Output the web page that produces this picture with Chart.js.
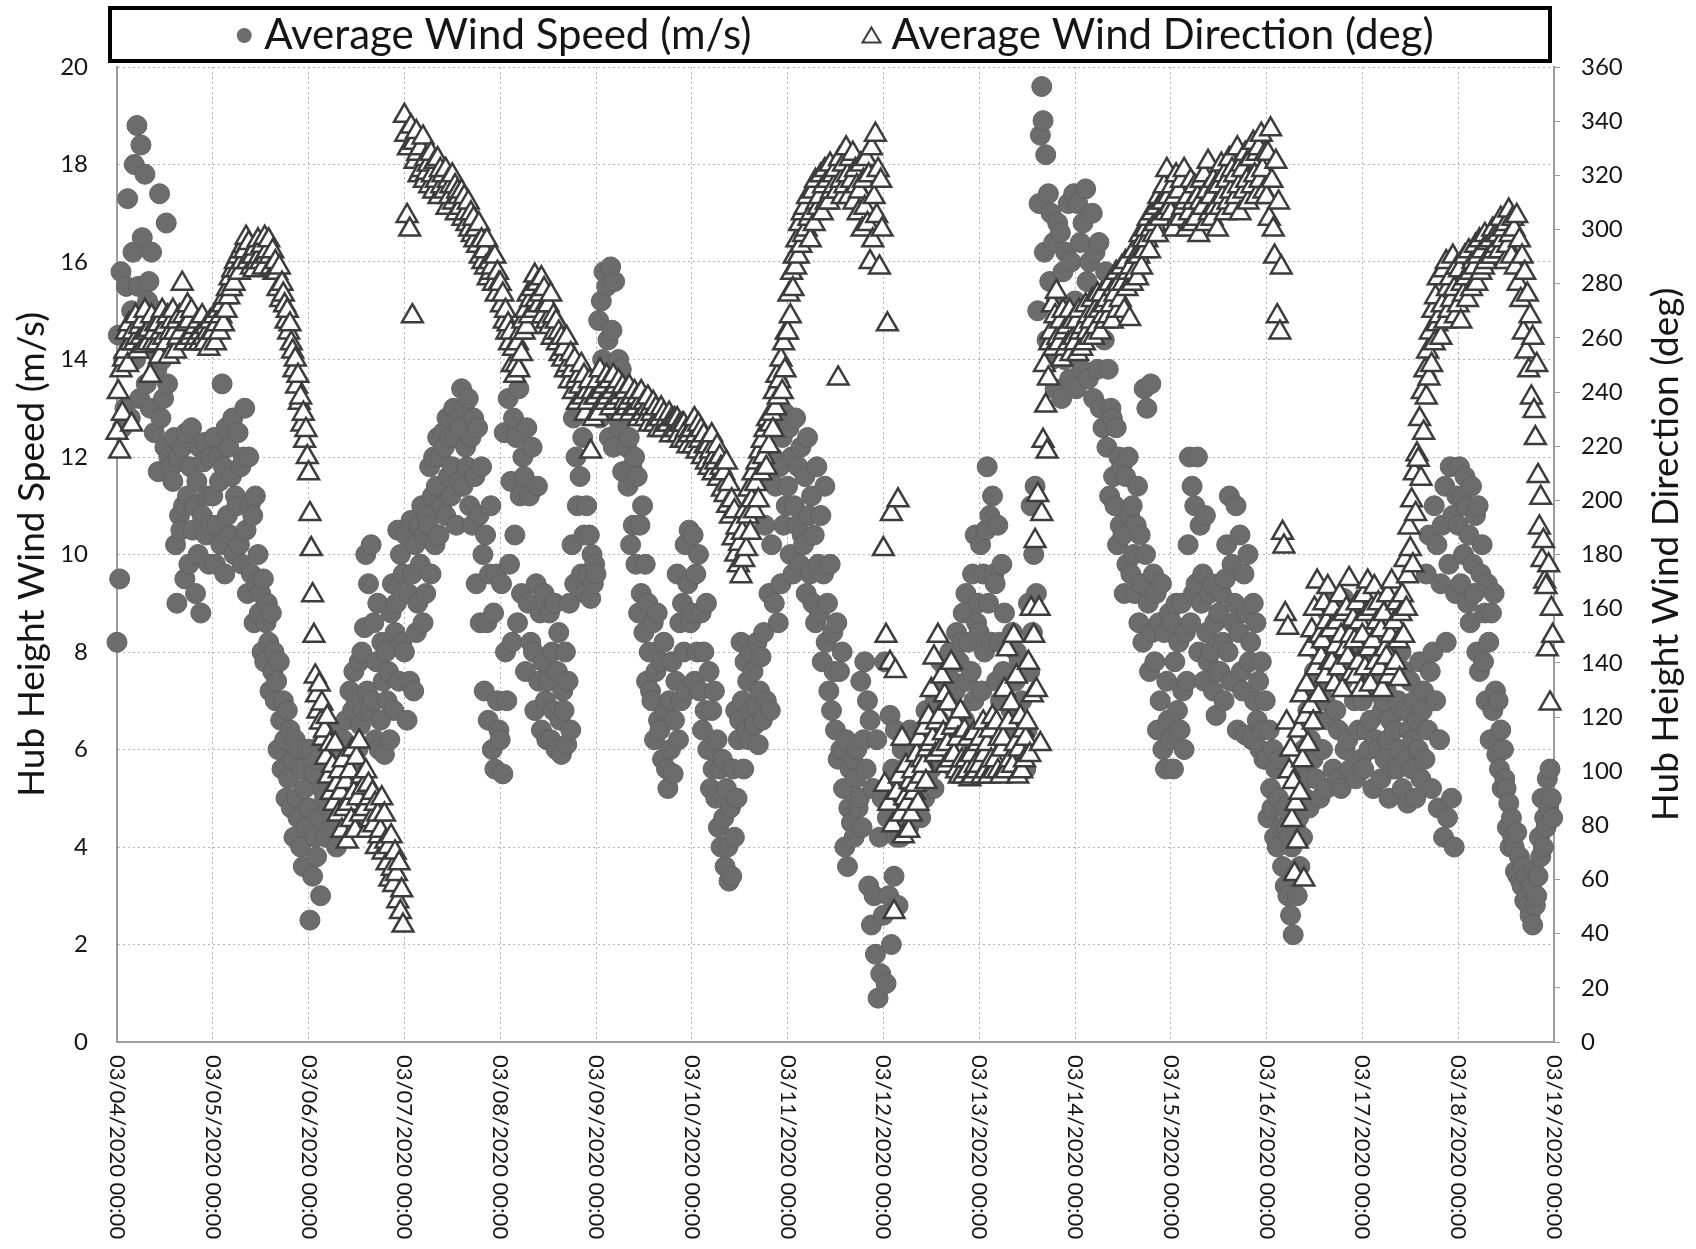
<!DOCTYPE html>
<html>
<head>
<meta charset="utf-8">
<script src="https://cdn.jsdelivr.net/npm/chart.js@4.4.1/dist/chart.umd.min.js"></script>
<style>
html,body{margin:0;padding:0;background:#ffffff;}
#wrap{width:1696px;height:1249px;position:relative;}
canvas{display:block;}
</style>
</head>
<body>
<div id="wrap"><canvas id="c" width="1696" height="1249"></canvas></div>
<script>
// Tick labels of the time axis (one per day)
const dateLabels = [
  '03/04/2020 00:00','03/05/2020 00:00','03/06/2020 00:00','03/07/2020 00:00',
  '03/08/2020 00:00','03/09/2020 00:00','03/10/2020 00:00','03/11/2020 00:00',
  '03/12/2020 00:00','03/13/2020 00:00','03/14/2020 00:00','03/15/2020 00:00',
  '03/16/2020 00:00','03/17/2020 00:00','03/18/2020 00:00','03/19/2020 00:00'
];
const speedLabel = 'Average Wind Speed (m/s)';
const directionLabel = 'Average Wind Direction (deg)';
const speedAxisTitle = 'Hub Height Wind Speed (m/s)';
const directionAxisTitle = 'Hub Height Wind Direction (deg)';

// Average wind speed (m/s): one row per day (03/04 ... 03/18), samples evenly spaced through the day
const windSpeedByDay = [
  [8.2,14.5,9.5,15.8,12.6,14.0,13.0,15.5,17.3,14.2,12.8,15.0,16.2,18.0,14.0,18.8,15.5,13.2,18.4,16.5,14.8,17.8,13.5,15.2,15.6,13.0,16.2,14.2,12.5,15.0,13.8,11.7,17.4,12.8,14.0,13.2,12.2,16.8,13.5,12.0,14.5,11.8,11.5,12.4,10.2,9.0,12.0,10.8,10.5,12.2,11.0,9.5,12.5,11.2,9.8,11.8,12.6,10.5,11.0,9.2,11.5,10.0,12.2,8.8,10.8,11.9,12.3,10.4,11.2,9.8,12.0,10.6],
  [11.2,12.4,9.8,10.6,12.0,11.5,10.2,13.5,11.8,9.6,12.6,10.8,12.2,10.4,11.6,12.8,10.0,11.2,11.0,12.5,10.2,11.8,9.8,12.0,13.0,10.5,9.2,12.0,11.0,9.6,10.8,8.6,11.2,9.4,10.0,8.8,9.2,8.0,9.5,7.8,8.6,9.0,8.2,7.2,8.8,7.6,8.0,7.0,7.4,6.0,7.8,6.6,5.6,7.0,6.2,5.0,6.8,5.4,6.4,4.8,5.8,4.2,6.2,5.0,4.6,6.0,4.0,5.6,3.6,5.2,4.4,6.0],
  [4.8,2.5,6.0,3.4,5.5,4.2,3.8,5.8,4.6,3.0,5.2,6.2,5.0,4.2,6.0,4.8,5.6,4.4,4.6,6.4,5.2,4.0,5.8,5.0,5.5,4.8,6.2,5.0,6.6,5.4,6.0,7.2,5.2,6.8,7.6,5.8,7.0,6.0,7.8,6.5,8.0,6.8,8.5,10.0,7.2,9.4,6.8,10.2,7.0,8.6,6.2,7.8,9.0,6.0,6.6,8.2,7.4,5.9,8.0,7.0,7.6,6.2,8.8,9.4,6.8,8.4,9.0,10.5,7.4,10.0,8.2,9.6],
  [8.0,10.4,6.6,9.2,7.4,10.7,9.6,7.2,10.2,8.4,9.0,10.6,9.8,11.0,8.6,10.4,9.2,10.8,10.6,11.8,9.6,11.2,12.0,10.2,11.4,12.4,10.4,12.0,11.0,12.5,12.2,10.8,12.8,11.6,12.4,11.2,11.8,13.0,12.4,10.6,12.8,11.5,12.6,13.4,11.4,13.0,12.2,11.8,13.2,11.0,12.4,10.6,12.8,11.6,9.4,12.6,10.8,8.6,11.8,10.0,7.2,10.4,8.6,6.6,9.6,11.0,6.0,8.8,5.6,9.6,7.0,6.4],
  [6.2,9.4,5.5,12.5,8.0,7.0,13.2,9.8,11.5,8.2,12.8,10.4,12.4,8.6,13.4,11.2,9.2,12.0,11.6,7.6,12.6,9.0,11.2,8.2,12.2,8.0,6.8,9.4,11.4,7.4,8.8,6.4,7.8,9.2,7.0,6.2,7.4,8.8,6.2,8.0,6.8,9.0,6.0,7.6,8.4,6.6,5.9,7.2,6.8,8.0,6.1,7.4,9.0,6.4,10.2,12.8,9.4,12.0,11.0,13.0,11.6,9.6,12.4,10.4,9.2,11.0,9.6,10.4,9.1,10.0,9.4,9.8],
  [9.6,13.5,14.8,12.8,15.2,14.0,15.8,13.0,15.5,14.4,12.4,15.9,14.6,12.2,15.6,13.4,12.8,14.0,12.6,13.8,11.7,12.9,13.4,12.2,11.4,12.4,10.2,11.8,10.6,12.0,9.8,11.6,8.8,10.6,9.2,11.0,8.4,9.8,7.4,9.0,8.0,7.2,7.0,8.6,6.2,7.6,8.8,6.6,6.4,7.8,5.8,8.2,6.8,5.6,5.2,7.0,6.0,7.8,5.5,6.6,7.4,9.6,6.2,8.6,7.0,9.0,8.0,10.2,7.2,9.4,10.5,8.6],
  [8.8,10.4,7.4,9.6,8.0,10.0,7.2,8.8,6.4,8.0,6.8,9.0,6.0,7.6,5.2,6.8,5.6,7.2,5.0,6.2,4.4,5.6,4.0,5.8,4.6,3.6,5.2,4.0,3.3,4.8,3.4,5.6,4.2,6.8,5.0,6.2,6.6,8.2,7.0,5.6,7.8,6.4,7.4,6.2,8.0,6.8,7.6,6.5,6.9,8.2,6.1,7.2,7.9,6.6,8.4,10.6,7.0,11.6,9.2,6.8,10.2,12.0,9.0,11.4,12.7,8.6,11.8,9.4,12.4,10.6,12.9,11.0],
  [11.4,12.6,10.0,12.0,9.6,11.0,12.8,10.6,11.8,9.8,12.2,10.4,10.2,11.6,9.2,12.4,10.8,9.6,11.2,9.0,10.4,8.6,11.8,9.8,8.8,10.8,7.8,9.6,11.4,8.2,9.0,7.2,9.8,6.8,8.4,7.6,6.4,8.6,5.8,7.6,6.0,8.0,5.2,4.0,6.2,3.6,4.8,5.6,4.5,5.8,4.2,5.4,6.0,4.8,5.0,7.4,4.4,6.2,7.8,5.6,7.0,3.2,6.6,2.4,5.2,3.0,1.8,6.2,0.9,4.2,1.4,5.0],
  [2.6,7.8,1.2,4.6,3.0,6.7,2.0,5.6,3.4,6.4,4.2,2.8,5.0,4.2,6.0,4.8,5.6,4.4,5.6,4.4,6.4,5.0,4.6,6.0,5.2,6.3,4.8,5.8,4.6,6.0,6.4,5.0,6.8,5.4,6.0,5.2,5.6,6.8,5.2,7.0,6.2,5.8,6.6,7.8,5.8,7.2,6.0,7.6,7.0,6.0,8.0,6.4,7.4,5.6,7.2,8.4,6.4,7.8,6.8,8.2,8.8,6.6,9.2,7.4,8.2,6.2,7.6,9.6,7.0,10.4,8.6,9.0],
  [8.4,10.2,7.2,9.6,8.0,10.5,11.8,9.0,10.8,8.2,11.2,9.6,9.4,7.4,10.6,8.2,7.0,9.8,7.6,8.8,6.4,8.2,7.0,6.2,6.8,8.4,6.0,7.4,8.0,6.6,7.8,5.8,7.0,6.2,7.6,5.6,6.4,9.0,7.6,11.0,8.4,10.0,11.4,9.2,15.0,17.2,18.6,19.6,18.9,16.2,18.2,14.4,17.4,15.6,17.0,14.0,16.4,13.4,15.2,16.8,14.6,16.6,13.2,15.8,14.0,16.2,15.0,17.2,13.6,16.0,14.4,17.4],
  [15.2,13.4,17.2,14.2,16.4,13.8,16.8,14.4,17.5,15.6,13.6,16.0,14.6,17.0,13.2,16.2,15.0,13.8,16.4,13.0,15.2,12.6,14.4,15.8,12.2,13.8,11.2,13.0,12.8,11.6,11.0,12.6,10.2,12.0,10.6,11.8,10.4,9.2,11.6,9.8,12.0,10.8,9.6,11.0,10.0,9.2,10.6,11.4,8.6,10.4,9.4,8.2,13.4,10.0,13.0,9.0,7.6,13.5,8.4,9.6,7.8,9.2,6.4,8.6,7.0,9.4,6.0,8.4,5.6,7.4,6.6,8.8],
  [6.2,8.6,5.6,7.8,9.0,6.8,8.2,6.4,9.0,7.2,6.0,8.4,7.4,10.2,12.0,8.6,11.4,9.2,11.0,9.4,12.0,8.0,10.6,9.0,9.6,7.4,10.8,8.4,7.8,9.2,8.0,9.4,7.2,8.6,6.7,7.6,8.8,7.6,9.2,8.2,7.0,9.5,10.2,8.0,11.2,7.4,9.8,8.6,9.0,11.0,6.4,8.4,10.4,7.6,7.2,9.6,6.3,8.8,10.0,7.8,8.2,6.2,9.0,7.0,8.6,6.6,7.4,6.0,7.8,6.4,5.8,7.0],
  [5.8,4.6,6.4,5.2,4.8,6.0,4.2,5.6,4.0,5.0,5.8,4.4,3.6,4.8,3.2,4.4,3.0,4.2,2.6,4.0,2.2,3.4,4.4,3.0,4.6,3.6,5.6,4.2,6.0,5.0,5.4,6.8,4.8,6.2,7.0,5.8,7.6,5.4,6.6,8.0,5.0,7.2,6.0,8.4,7.0,5.2,8.8,6.6,7.8,9.0,5.6,8.2,6.8,5.4,6.4,8.6,5.2,7.4,9.1,6.0,8.0,6.2,8.8,5.6,7.6,8.4,7.0,5.4,8.2,6.4,7.6,5.8],
  [7.0,5.6,8.2,6.4,7.6,6.0,6.6,8.0,5.2,7.2,6.2,7.8,6.0,7.4,5.4,6.8,7.0,5.8,7.2,6.2,5.0,6.6,7.5,5.6,6.4,7.8,5.6,7.0,6.0,8.0,5.2,6.8,7.6,5.8,4.9,6.4,7.4,5.6,6.2,7.0,5.0,6.6,6.0,7.8,5.4,6.8,7.2,5.8,9.6,6.4,10.4,7.6,5.2,8.0,11.0,7.0,10.2,4.8,6.2,9.4,10.6,4.2,11.4,8.2,4.6,9.8,11.8,5.0,10.8,4.0,9.2,11.2],
  [10.6,11.8,9.4,11.2,10.0,11.6,11.0,9.0,10.4,8.6,11.4,9.8,9.2,10.8,8.0,11.0,7.6,9.6,10.2,7.8,8.8,7.0,9.4,8.2,6.2,8.8,6.8,9.2,7.2,5.9,7.0,5.6,6.4,5.2,6.0,5.4,5.2,4.4,4.9,4.0,4.6,4.2,4.0,3.5,4.3,3.4,3.8,3.3,3.2,3.6,2.9,3.4,3.0,2.8,2.6,3.2,2.4,3.5,2.8,3.0,3.4,4.2,3.8,5.0,4.0,4.6,4.4,5.4,4.8,5.6,5.0,4.6]
];

// Average wind direction (deg): one row per day (03/04 ... 03/18), samples evenly spaced through the day
const windDirectionByDay = [
  [225,240,218,248,232,252,255,262,250,265,258,228,262,258,268,260,255,264,260,266,257,270,262,258,263,246,268,258,262,265,258,265,253,262,270,260,264,258,268,253,262,266,270,262,255,266,260,268,262,280,268,258,265,272,266,260,270,262,258,264,260,266,258,262,268,260,258,264,262,256,266,262],
  [262,268,258,265,270,262,268,272,265,275,270,278,275,282,278,285,280,288,285,290,284,292,288,294,292,297,288,295,290,286,290,285,293,288,296,290,288,294,286,297,290,292,296,290,286,292,284,288,284,278,286,274,280,276,272,266,270,262,265,258,255,248,252,242,246,236,238,228,232,222,226,216],
  [210,195,182,165,150,135,128,122,132,118,125,112,115,105,120,98,110,92,102,88,110,95,84,100,92,78,104,86,96,74,88,100,82,108,92,78,105,90,111,84,98,94,86,100,78,95,90,82,92,80,88,72,84,76,78,90,70,84,74,66,72,60,76,64,58,70,62,52,66,48,56,43],
  [342,335,305,330,300,338,268,332,325,336,328,320,330,322,334,318,326,321,324,316,328,320,314,325,318,326,312,322,316,320,314,322,308,318,312,316,320,310,316,306,314,312,308,314,304,312,306,302,310,300,306,298,304,296,300,294,302,290,296,288,292,286,296,282,288,284,286,280,290,276,284,280],
  [280,272,276,266,270,262,265,258,262,250,256,246,250,258,248,262,254,266,262,270,264,276,268,274,278,270,283,274,280,272,276,282,268,278,272,266,272,264,276,260,268,262,266,258,262,254,260,252,256,248,260,250,244,254,248,240,252,244,236,246,242,250,238,246,232,240,236,244,218,240,230,238],
  [238,244,232,248,240,236,242,236,246,238,244,234,240,246,236,242,238,244,238,232,242,236,240,234,236,242,232,238,234,240,234,238,230,236,240,232,236,230,234,238,228,234,232,236,228,234,230,226,230,234,226,232,228,230,228,232,224,230,226,230,226,230,224,228,222,228,228,222,226,220,224,226],
  [226,220,230,224,218,228,222,226,216,224,220,214,220,212,218,224,210,216,214,220,208,216,212,204,210,202,214,198,206,194,200,186,196,180,190,176,184,172,188,178,196,182,194,204,188,200,210,196,206,214,200,218,210,222,216,226,212,230,220,228,232,226,240,234,246,238,244,252,240,258,248,262],
  [262,276,268,284,278,290,286,296,290,302,294,306,298,308,300,312,304,296,306,314,302,318,310,308,312,320,306,316,322,310,318,310,324,314,320,316,322,314,245,326,318,312,324,316,330,320,312,326,318,328,310,322,316,306,314,324,300,318,308,326,302,320,288,330,296,312,335,305,322,286,318,300],
  [182,95,150,265,88,140,195,80,48,137,92,200,98,84,112,76,90,102,88,78,96,84,100,92,95,106,88,112,98,104,102,116,96,108,120,110,130,112,142,106,118,150,120,108,135,114,128,102,110,125,104,140,116,106,118,100,112,98,122,104,98,115,104,100,112,97,106,98,114,102,100,110],
  [102,112,98,118,106,100,110,98,115,104,120,100,104,118,100,112,98,108,112,130,100,145,118,104,125,102,150,110,135,98,108,120,100,115,104,112,118,140,106,160,128,150,185,130,202,160,110,195,222,250,235,218,245,258,262,272,256,268,277,260,258,266,252,270,262,256,264,258,270,254,266,260],
  [258,266,254,270,262,256,264,258,272,262,268,260,266,274,260,270,264,276,270,262,276,268,272,266,274,268,280,272,266,278,276,284,270,280,274,286,280,270,288,278,284,267,286,280,292,284,290,282,290,298,286,296,292,300,296,304,292,300,306,298,302,308,298,312,304,310,310,316,306,322,312,308],
  [306,316,300,312,320,304,314,304,318,308,322,310,300,312,306,318,302,310,316,304,312,298,310,318,308,320,302,314,325,306,312,304,318,308,316,300,316,308,324,312,320,306,318,310,326,314,322,308,320,312,330,316,306,324,322,314,328,318,310,326,326,316,332,320,312,328,330,318,335,322,314,328],
  [312,328,304,337,318,300,290,325,268,310,262,286,188,183,158,118,153,100,108,82,96,62,88,74,115,92,128,104,60,120,132,110,145,124,152,118,160,138,170,128,150,142,148,162,135,155,168,140,152,140,160,132,146,155,138,165,150,130,158,145,160,142,171,150,136,156,148,135,162,140,155,130],
  [150,165,138,158,170,145,132,160,148,168,140,155,162,138,152,130,158,145,142,165,135,150,170,138,155,140,162,148,134,158,165,150,178,160,172,190,182,200,176,210,195,217,215,230,208,240,225,248,238,255,245,262,250,270,258,275,265,282,268,260,272,285,266,288,278,270,282,274,290,278,268,286],
  [272,285,266,280,276,290,282,274,292,284,278,288,286,294,280,290,296,284,292,286,298,288,295,290,296,290,300,292,298,294,298,292,304,296,300,288,302,294,307,298,290,304,300,286,305,280,296,274,290,262,284,255,276,248,268,238,260,233,223,250,209,190,201,178,185,170,168,145,176,125,160,150]
];

const hoursPerDay = 24;

function toPoints(rows) {
  const pts = [];
  rows.forEach((row, d) => {
    row.forEach((v, j) => {
      pts.push({x: d * hoursPerDay + j * hoursPerDay / row.length, y: v});
    });
  });
  return pts;
}
const speedPoints = toPoints(windSpeedByDay);
const directionPoints = toPoints(windDirectionByDay);

const FONT = 'Lato, "Open Sans", "DejaVu Sans", sans-serif';
const TEXT = '#151515';

const decorations = {
  id: 'decorations',
  afterDraw(chart) {
    const ctx = chart.ctx;
    const ca = chart.chartArea;
    const xs = chart.scales.x;
    const y2 = chart.scales.y2;

    // x tick labels rotated clockwise, reading downward from the axis
    ctx.save();
    ctx.fillStyle = TEXT;
    ctx.font = '22px ' + FONT;
    ctx.textAlign = 'left';
    ctx.textBaseline = 'middle';
    xs.ticks.forEach((t) => {
      const px = xs.getPixelForValue(t.value);
      ctx.save();
      ctx.translate(px, xs.top + 13);
      ctx.rotate(Math.PI / 2);
      ctx.fillText(dateLabels[Math.round(t.value / hoursPerDay)], 0, 0);
      ctx.restore();
    });
    ctx.restore();

    // right axis title reading bottom to top
    ctx.save();
    ctx.fillStyle = TEXT;
    ctx.font = '37px ' + FONT;
    ctx.textAlign = 'center';
    ctx.textBaseline = 'middle';
    ctx.translate(y2.right - 30, (ca.top + ca.bottom) / 2);
    ctx.rotate(-Math.PI / 2);
    ctx.fillText(directionAxisTitle, 0, 0);
    ctx.restore();

    // boxed legend
    const boxL = ca.left - 7, boxR = ca.right - 4, boxT = 8, boxB = ca.top - 6;
    ctx.save();
    ctx.lineWidth = 4;
    ctx.strokeStyle = '#000';
    ctx.strokeRect(boxL, boxT, boxR - boxL, boxB - boxT);
    ctx.font = '42px ' + FONT;
    ctx.textBaseline = 'middle';
    ctx.textAlign = 'left';
    const w1 = ctx.measureText(speedLabel).width;
    const w2 = ctx.measureText(directionLabel).width;
    const mark = 16, gap = 12, itemGap = 112;
    const total = mark + gap + w1 + itemGap + mark + gap + w2;
    let x = (boxL + boxR) / 2 + 5 - total / 2;
    const cy = (boxT + boxB) / 2 + 1;
    ctx.beginPath();
    ctx.arc(x + mark / 2, cy, 7.5, 0, Math.PI * 2);
    ctx.fillStyle = '#6c6c6c';
    ctx.fill();
    ctx.fillStyle = TEXT;
    x += mark + gap;
    ctx.fillText(speedLabel, x, cy);
    x += w1 + itemGap;
    ctx.beginPath();
    ctx.moveTo(x + mark / 2, cy - 8);
    ctx.lineTo(x + mark / 2 + 9, cy + 7);
    ctx.lineTo(x + mark / 2 - 9, cy + 7);
    ctx.closePath();
    ctx.fillStyle = '#fff';
    ctx.fill();
    ctx.lineWidth = 2;
    ctx.strokeStyle = '#3c3c3c';
    ctx.stroke();
    ctx.fillStyle = TEXT;
    x += mark + gap;
    ctx.fillText(directionLabel, x, cy);
    ctx.restore();
  }
};

function build() {
  new Chart(document.getElementById('c'), {
    type: 'scatter',
    data: {
      datasets: [
        {
          label: speedLabel,
          data: speedPoints,
          yAxisID: 'y',
          order: 2,
          clip: false,
          pointStyle: 'circle',
          pointRadius: 10,
          pointBackgroundColor: '#6c6c6c',
          pointBorderColor: '#626262',
          pointBorderWidth: 1,
          showLine: false
        },
        {
          label: directionLabel,
          data: directionPoints,
          yAxisID: 'y2',
          order: 1,
          clip: false,
          pointStyle: 'triangle',
          pointRadius: 12,
          pointBackgroundColor: '#ffffff',
          pointBorderColor: '#3c3c3c',
          pointBorderWidth: 2.5,
          showLine: false
        }
      ]
    },
    options: {
      responsive: false,
      animation: false,
      devicePixelRatio: 1,
      layout: {padding: {top: 67, left: 0, right: 0, bottom: 0}},
      plugins: {legend: {display: false}, tooltip: {enabled: false}},
      scales: {
        x: {
          type: 'linear', position: 'bottom', min: 0, max: (dateLabels.length - 1) * hoursPerDay,
          ticks: {stepSize: hoursPerDay, autoSkip: false, minRotation: 90, maxRotation: 90,
                  color: 'rgba(0,0,0,0)', font: {family: FONT, size: 22},
                  callback: (v) => dateLabels[Math.round(v / hoursPerDay)] || ''},
          grid: {color: '#b4b4b4', lineWidth: 1, drawTicks: false},
          border: {color: '#9c9c9c', width: 2, dash: [2, 3]},
          afterFit: (s) => { s.height = 207; }
        },
        y: {
          position: 'left', min: 0, max: 20,
          ticks: {stepSize: 2, padding: 29, color: TEXT, font: {family: FONT, size: 24}},
          grid: {color: '#b4b4b4', lineWidth: 1, drawTicks: false},
          border: {color: '#9c9c9c', width: 2, dash: [2, 3]},
          title: {display: true, text: speedAxisTitle, color: TEXT, font: {family: FONT, size: 37}, padding: {top: 10, bottom: 0}},
          afterFit: (s) => { s.width = 117; }
        },
        y2: {
          position: 'right', min: 0, max: 360,
          ticks: {stepSize: 20, padding: 21, color: TEXT, font: {family: FONT, size: 24}},
          grid: {drawOnChartArea: false, drawTicks: true, tickLength: 6, color: '#9c9c9c', lineWidth: 1},
          border: {color: '#9c9c9c', width: 2},
          afterFit: (s) => { s.width = 142; }
        }
      }
    },
    plugins: [decorations]
  });
}

if (document.fonts && document.fonts.load) {
  Promise.all([document.fonts.load('42px Lato'), document.fonts.load('22px Lato')])
    .then(build, build);
} else {
  build();
}
</script>
</body>
</html>
